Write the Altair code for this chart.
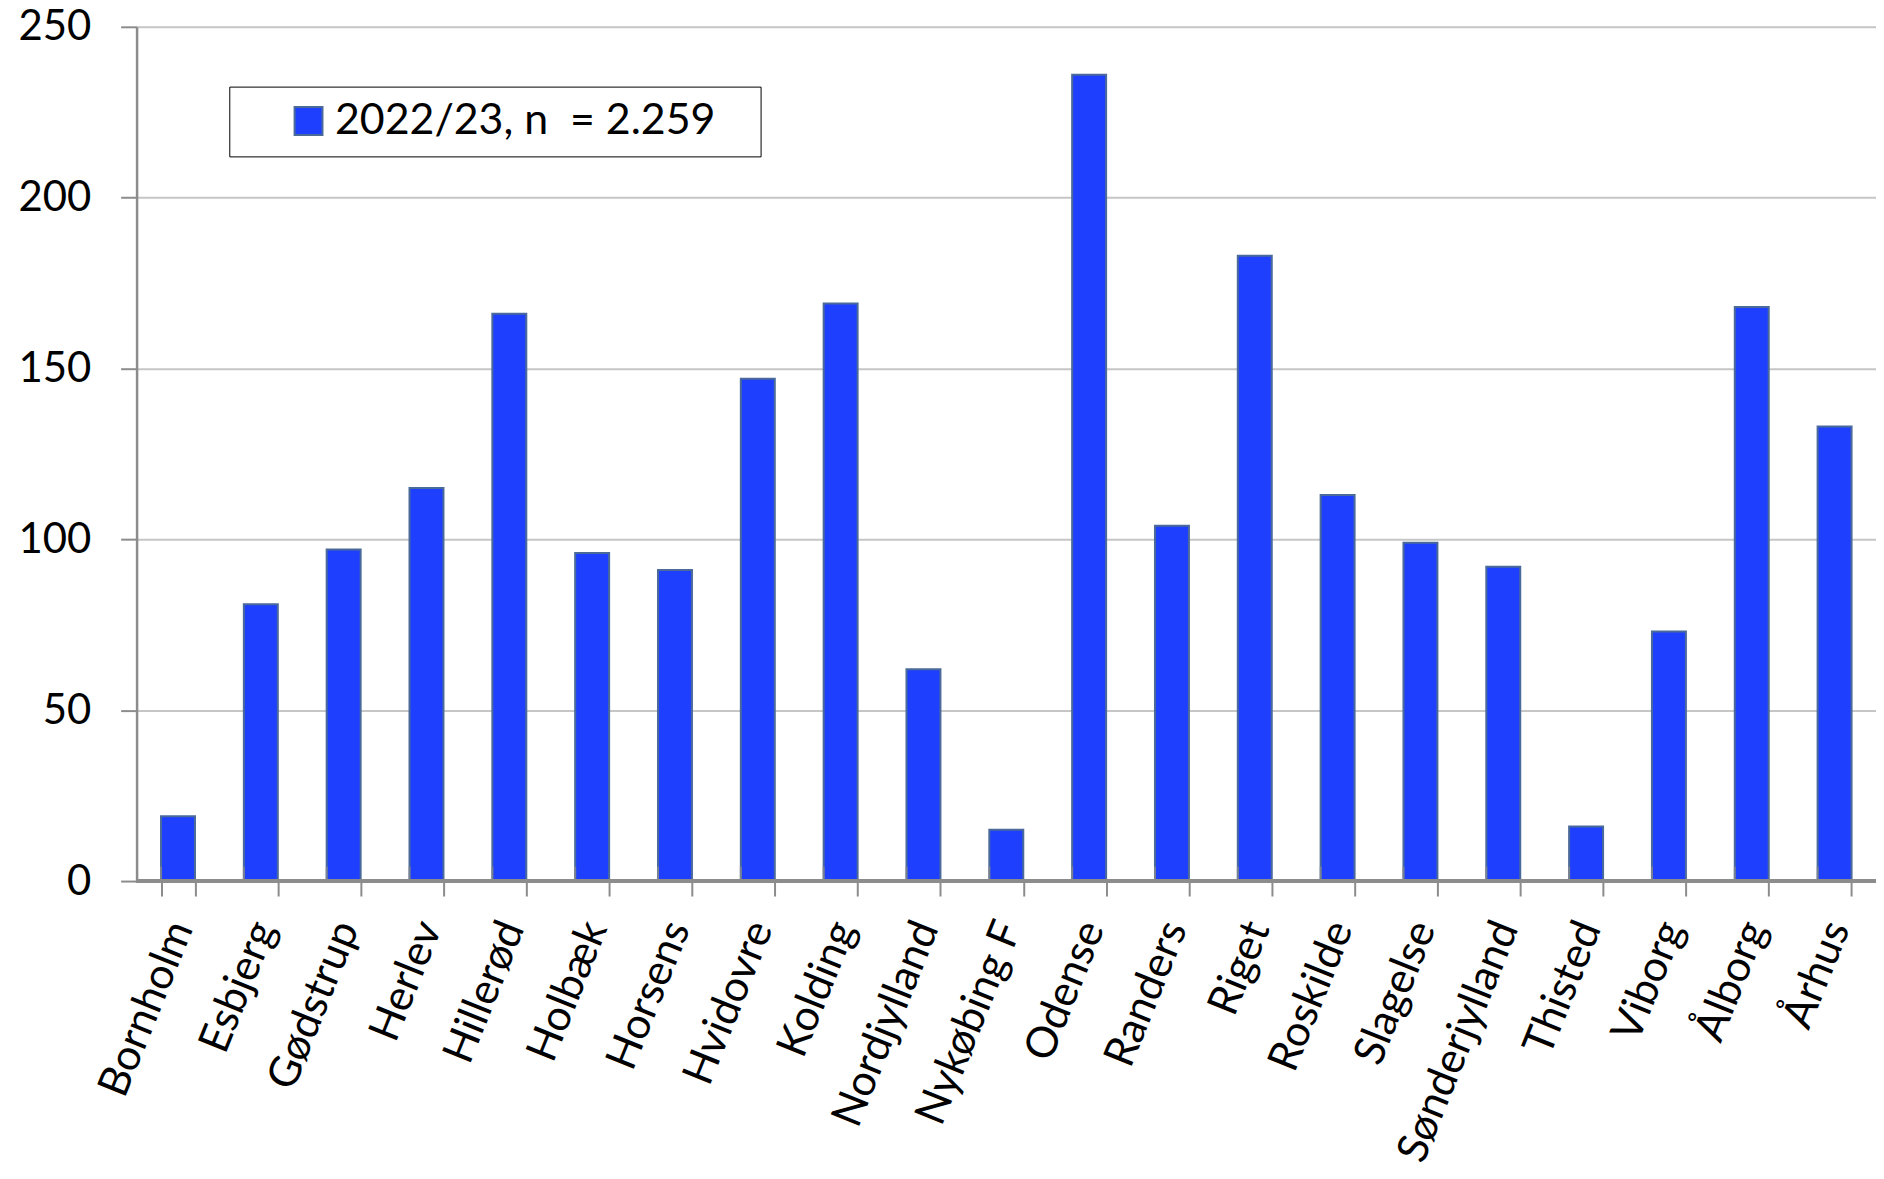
import altair as alt
import pandas as pd

categories = ["Bornholm", "Esbjerg", "Gødstrup", "Herlev", "Hillerød", "Holbæk", "Horsens",
              "Hvidovre", "Kolding", "Nordjylland", "Nykøbing F", "Odense", "Randers", "Riget",
              "Roskilde", "Slagelse", "Sønderjylland", "Thisted", "Viborg", "Ålborg", "Århus"]
values = [19, 81, 97, 115, 166, 96, 91, 147, 169, 62, 15, 236, 104, 183, 113, 99, 92, 16, 73, 168, 133]
series_name = "2022/23, n  = 2.259"
y_ticks = [0, 50, 100, 150, 200, 250]

df = pd.DataFrame({"afdeling": categories, "antal": values, "serie": [series_name] * len(categories)})

FONT = "Lato"
AXIS_GREY = "#8c8c8c"

x_scale = alt.Scale(paddingInner=0.59, paddingOuter=0.295)

bars = alt.Chart(df).mark_bar(stroke="#4a6a9a", strokeWidth=2).encode(
    x=alt.X("afdeling:N", sort=categories, scale=x_scale,
            axis=alt.Axis(title=None, labelAngle=292, labelAlign="right", labelBaseline="middle",
                          labelFont=FONT, labelFontSize=43, labelColor="black",
                          labelPadding=27, labelOffset=3, domain=False,
                          ticks=True, tickSize=15, tickBand="extent", tickColor=AXIS_GREY,
                          tickWidth=2, grid=False, labelLimit=600)),
    y=alt.Y("antal:Q", scale=alt.Scale(domain=[0, 250], nice=False),
            axis=alt.Axis(title=None, values=y_ticks, labelFont=FONT, labelFontSize=42,
                          labelColor="black", labelPadding=30, tickSize=16, tickColor=AXIS_GREY,
                          tickWidth=2, domainColor=AXIS_GREY, domainWidth=2.5,
                          gridColor="#c6c6c6", gridWidth=2)),
    color=alt.Color("serie:N", scale=alt.Scale(domain=[series_name], range=["#1f3fff"]),
                    legend=alt.Legend(title=None, orient="none", legendX=93, legendY=60,
                                      fillColor="white", strokeColor="black",
                                      padding=13,
                                      symbolType="square", symbolSize=784, symbolOffset=45,
                                      symbolStrokeColor="#4a6a9a", symbolStrokeWidth=2,
                                      labelFont=FONT, labelFontSize=43, labelColor="black",
                                      labelOffset=5, labelLimit=800,
                                      labelExpr="replace(datum.label, '  ', ' \u00a0') + '\u2800'")),
)

# short vertical ticks at category boundaries, crossing the baseline
boundary_ticks = alt.Chart(df).mark_tick(orient="vertical", size=15, thickness=2,
                                         color=AXIS_GREY, yOffset=-7).encode(
    x=alt.X("afdeling:N", sort=categories, scale=x_scale, bandPosition=0),
    y=alt.datum(0),
)

zero_line = alt.Chart(df).mark_rule(color=AXIS_GREY, strokeWidth=3).encode(y=alt.datum(0))

chart = alt.layer(bars, boundary_ticks, zero_line).properties(
    width=1745, height=857,
    autosize=alt.AutoSizeParams(type="none"),
    padding={"left": 129, "top": 17, "right": 0, "bottom": 288},
).configure_view(fill="#e8ecf4", stroke=None).configure(background="white")

chart.save("out.html", embed_options={"renderer": "svg", "actions": False})
